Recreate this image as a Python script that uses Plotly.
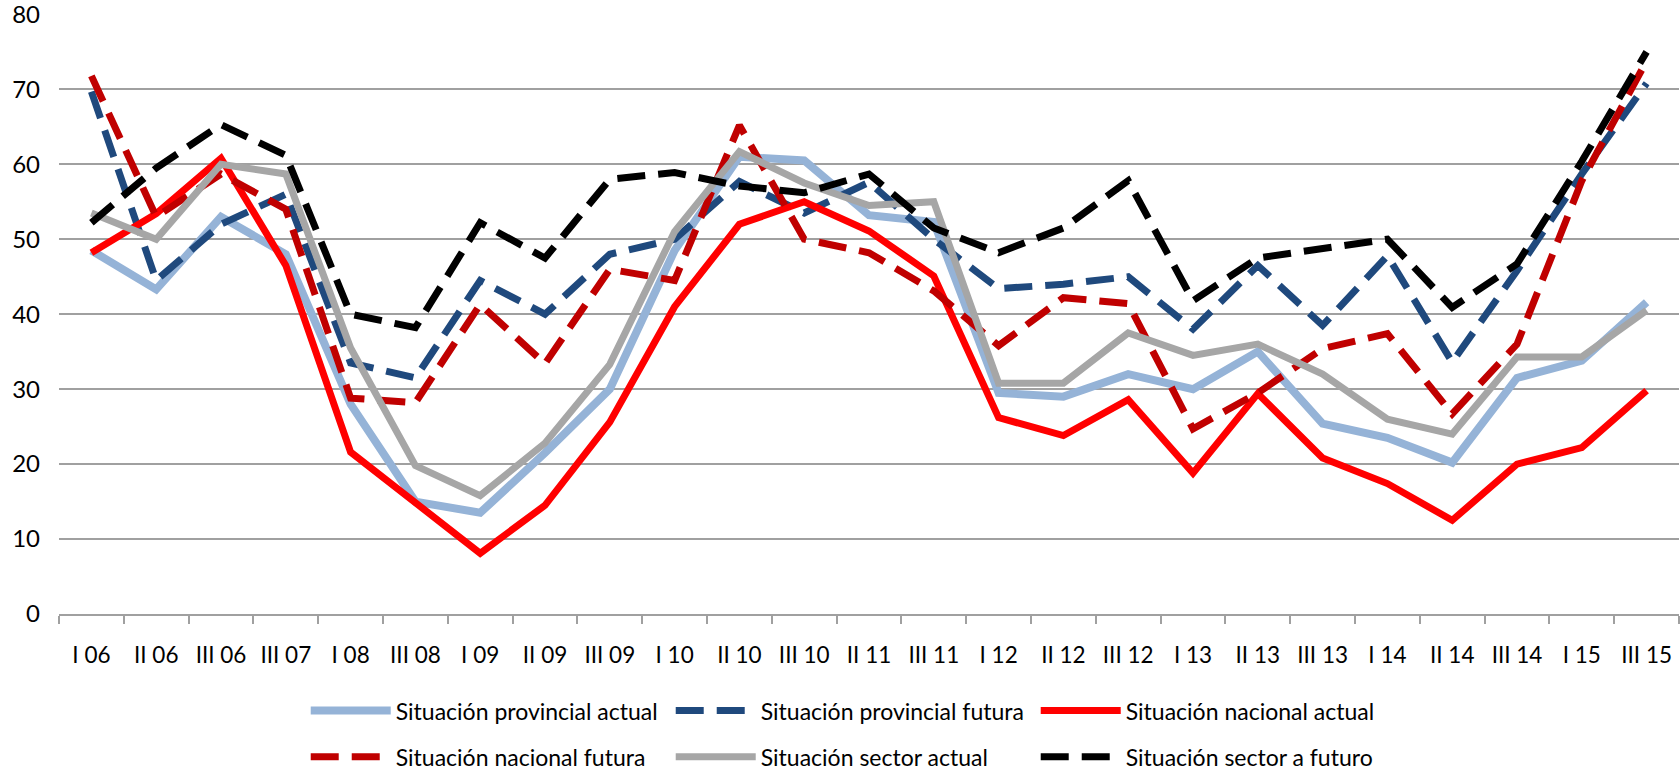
import plotly.graph_objects as go

categories = ["I 06", "II 06", "III 06", "III 07", "I 08", "III 08", "I 09", "II 09", "III 09",
              "I 10", "II 10", "III 10", "II 11", "III 11", "I 12", "II 12", "III 12",
              "I 13", "II 13", "III 13", "I 14", "II 14", "III 14", "I 15", "III 15"]

provincial_actual = [48.5, 43.3, 53.0, 48.0, 28.0, 15.0, 13.5, 21.5, 30.0, 48.5, 61.0, 60.5,
                     53.2, 52.3, 29.5, 29.0, 32.0, 30.0, 35.0, 25.4, 23.5, 20.2, 31.5, 33.8, 41.6]
provincial_futura = [69.7, 44.5, 52.0, 56.0, 33.5, 31.5, 44.5, 40.0, 48.0, 50.0, 57.7, 53.5,
                     57.6, 50.0, 43.4, 44.0, 45.0, 38.0, 46.5, 38.5, 47.8, 33.6, 45.8, 58.7, 70.8]
nacional_actual = [48.2, 53.4, 60.8, 46.5, 21.6, 14.8, 8.1, 14.5, 25.6, 41.0, 52.0, 55.0,
                   51.1, 45.1, 26.2, 23.8, 28.6, 18.8, 29.4, 20.8, 17.4, 12.5, 20.0, 22.2, 29.8]
nacional_futura = [71.8, 53.0, 58.7, 54.0, 28.8, 28.2, 41.3, 33.4, 46.0, 44.5, 65.2, 50.0,
                   48.2, 43.1, 35.8, 42.2, 41.4, 24.7, 29.5, 35.4, 37.4, 26.7, 36.0, 57.8, 73.8]
sector_actual = [53.5, 50.0, 60.0, 58.7, 35.5, 19.8, 15.8, 22.8, 33.3, 51.0, 61.7, 57.5,
                 54.5, 55.0, 30.8, 30.8, 37.5, 34.5, 36.0, 32.0, 26.0, 24.0, 34.3, 34.3, 40.5]
sector_futuro = [52.2, 59.5, 65.3, 61.2, 40.0, 38.2, 52.2, 47.5, 58.0, 58.9, 57.1, 56.2,
                 58.7, 51.5, 48.2, 51.5, 57.8, 41.8, 47.5, 48.7, 50.0, 40.9, 46.7, 60.4, 75.0]

y_ticks = [0, 10, 20, 30, 40, 50, 60, 70, 80]

series = [
    ("Situación provincial actual", provincial_actual, "#95B3D7", "solid", 8, "legend"),
    ("Situación provincial futura", provincial_futura, "#1F497D", "28px,13px", 7, "legend"),
    ("Situación nacional actual", nacional_actual, "#FF0000", "solid", 7, "legend"),
    ("Situación nacional futura", nacional_futura, "#C00000", "28px,13px", 7, "legend2"),
    ("Situación sector actual", sector_actual, "#A6A6A6", "solid", 7, "legend2"),
    ("Situación sector a futuro", sector_futuro, "#000000", "28px,13px", 7, "legend2"),
]

fig = go.Figure()
for name, vals, color, dash, width, leg in series:
    fig.add_trace(go.Scatter(
        x=categories, y=vals, name=name, mode="lines",
        line=dict(color=color, width=width, dash=dash),
        legend=leg,
    ))

FONT = "Lato"
legend_common = dict(
    orientation="h",
    xanchor="left", yanchor="middle",
    font=dict(family=FONT, size=23, color="#000000"),
    entrywidth=270, entrywidthmode="pixels",
    itemwidth=80,
    bgcolor="rgba(0,0,0,0)",
    traceorder="normal",
)

fig.update_layout(
    width=1680, height=771,
    margin=dict(l=59, r=1, t=14, b=157, autoexpand=False),
    paper_bgcolor="white", plot_bgcolor="white",
    font=dict(family=FONT, color="#000000"),
    showlegend=True,
    legend=dict(x=0.1523, y=-0.161, **legend_common),
    legend2=dict(x=0.1523, y=-0.238, **legend_common),
    xaxis=dict(
        type="category",
        categoryorder="array", categoryarray=categories,
        range=[-0.5, len(categories) - 0.5],
        tickson="boundaries",
        ticks="outside", ticklen=8, tickwidth=2, tickcolor="#A0A0A0",
        showline=True, linecolor="#A0A0A0", linewidth=2,
        showgrid=False,
        tickfont=dict(family=FONT, size=22.5, color="#000000"),
        ticklabelstandoff=20,
        tickangle=0,
        automargin=False,
    ),
    yaxis=dict(
        range=[0, 80.05],
        tickvals=y_ticks,
        showgrid=True, gridcolor="#A0A0A0", gridwidth=2,
        zeroline=False,
        showline=False,
        ticks="",
        tickfont=dict(family=FONT, size=24, color="#000000"),
        ticklabelstandoff=18,
        ticklabeloverflow="allow",
        automargin=False,
    ),
)

fig.write_html(
    "out.html",
    config={"displayModeBar": False},
    post_script="document.body.style.margin='0';document.body.style.overflow='hidden';",
)
